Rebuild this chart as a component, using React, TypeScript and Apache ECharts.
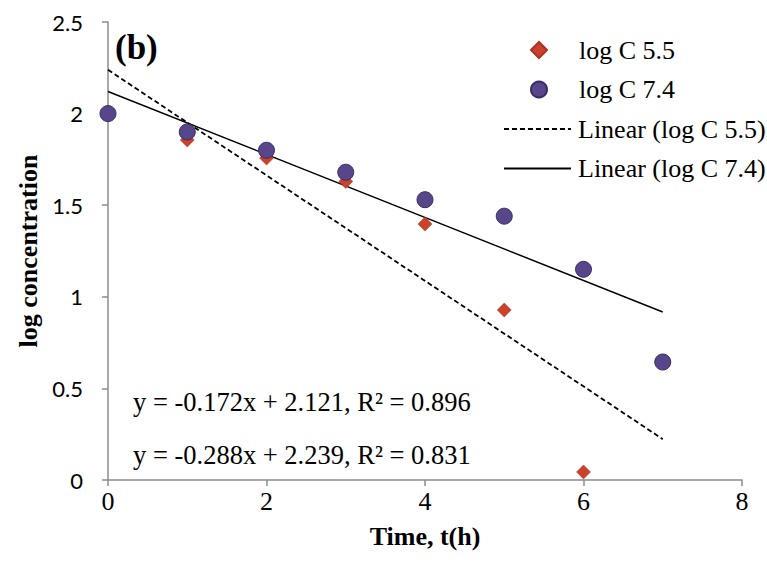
import React, { useEffect, useRef } from "react";
import * as echarts from "echarts";

const timeHours = [0, 1, 2, 3, 4, 5, 6, 7];
const logC55 = [2.0, 1.856, 1.757, 1.63, 1.397, 0.928, 0.044];
const logC74 = [2.0, 1.9, 1.8, 1.68, 1.53, 1.44, 1.15, 0.644];
const fit55 = { slope: -0.288, intercept: 2.239, r2: 0.831 };
const fit74 = { slope: -0.172, intercept: 2.121, r2: 0.896 };
const fitRange = [0, 7];
const xTicks = { min: 0, max: 8, interval: 2 };
const yTicks = { min: 0, max: 2.5, interval: 0.5 };

const serif = "'Liberation Serif', 'Times New Roman', serif";
const sans = "Lato, 'Open Sans', sans-serif";

export default function App() {
  const ref = useRef<HTMLDivElement>(null);
  useEffect(() => {
    if (!ref.current) return;
    const chart = echarts.init(ref.current, null, { renderer: "svg" });
    const fitLine = (f: { slope: number; intercept: number }) =>
      fitRange.map((x) => [x, f.intercept + f.slope * x]);
    const eq = (f: { slope: number; intercept: number; r2: number }) =>
      `y = ${f.slope.toFixed(3)}x + ${f.intercept.toFixed(3)}, R² = ${f.r2.toFixed(3)}`;
    const axisGray = "#8c8c8c";
    const legendText = { fontFamily: serif, fontSize: 26, color: "#000", lineHeight: 26 };
    chart.setOption({
      animation: false,
      backgroundColor: "#ffffff",
      grid: { left: 108, right: 25, top: 22, bottom: 85 },
      xAxis: {
        type: "value",
        min: xTicks.min,
        max: xTicks.max,
        interval: xTicks.interval,
        name: "Time, t(h)",
        nameLocation: "middle",
        nameGap: 43,
        nameTextStyle: { fontFamily: serif, fontWeight: "bold", fontSize: 26, color: "#000" },
        axisLine: { lineStyle: { color: axisGray, width: 1.5 } },
        axisTick: { show: true, length: 6, lineStyle: { color: axisGray, width: 1.5 } },
        axisLabel: { fontFamily: serif, fontSize: 26, color: "#000", margin: 8 },
        splitLine: { show: false },
      },
      yAxis: {
        type: "value",
        min: yTicks.min,
        max: yTicks.max,
        interval: yTicks.interval,
        name: "log concentration",
        nameLocation: "middle",
        nameGap: 66,
        nameTextStyle: { fontFamily: serif, fontWeight: "bold", fontSize: 26, color: "#000" },
        axisLine: { show: true, lineStyle: { color: axisGray, width: 1.5 } },
        axisTick: { show: true, length: 6, lineStyle: { color: axisGray, width: 1.5 } },
        axisLabel: { fontFamily: sans, fontSize: 22, color: "#000", margin: 25 },
        splitLine: { show: false },
      },
      legend: [
        {
          orient: "vertical",
          left: 525,
          top: 32,
          itemWidth: 16,
          itemHeight: 16,
          itemGap: 13.5,
          textStyle: { ...legendText, padding: [0, 0, 0, 27] },
          data: [{ name: "log C 5.5" }, { name: "log C 7.4" }],
        },
        {
          orient: "vertical",
          left: 498,
          top: 111,
          itemWidth: 67,
          itemHeight: 14,
          itemGap: 13.5,
          textStyle: { ...legendText, padding: [0, 0, 0, 2] },
          data: [
            { name: "Linear (log C 5.5)", itemStyle: { opacity: 0 } },
            { name: "Linear (log C 7.4)", itemStyle: { opacity: 0 } },
          ],
        },
      ],
      series: [
        {
          name: "Linear (log C 5.5)",
          type: "line",
          data: fitLine(fit55),
          symbol: "none",
          lineStyle: { color: "#000", width: 1.8, type: [5, 3] },
          itemStyle: { color: "#000" },
          z: 1,
        },
        {
          name: "Linear (log C 7.4)",
          type: "line",
          data: fitLine(fit74),
          symbol: "none",
          lineStyle: { color: "#000", width: 1.5 },
          itemStyle: { color: "#000" },
          z: 1,
        },
        {
          name: "log C 5.5",
          type: "scatter",
          data: logC55.map((v, i) => [timeHours[i], v]),
          symbol: "diamond",
          symbolSize: 14,
          itemStyle: { color: "#cb412c", borderColor: "#a8351f", borderWidth: 0.5, opacity: 1 },
          z: 2,
        },
        {
          name: "log C 7.4",
          type: "scatter",
          data: logC74.map((v, i) => [timeHours[i], v]),
          symbol: "circle",
          symbolSize: 16,
          itemStyle: { color: "#57468a", borderColor: "#3a2c64", borderWidth: 1, opacity: 1 },
          z: 3,
        },
      ],
      graphic: [
        {
          type: "text",
          x: 115,
          y: 47,
          style: {
            text: "(b)",
            fontFamily: serif,
            fontWeight: "bold",
            fontSize: 35,
            fill: "#000",
            verticalAlign: "middle",
          },
        },
        {
          type: "text",
          x: 133,
          y: 402,
          style: { text: eq(fit74), fontFamily: serif, fontSize: 26.5, fill: "#000", verticalAlign: "middle" },
        },
        {
          type: "text",
          x: 133,
          y: 455,
          style: { text: eq(fit55), fontFamily: serif, fontSize: 26.5, fill: "#000", verticalAlign: "middle" },
        },
      ],
    });
    return () => chart.dispose();
  }, []);
  return <div ref={ref} style={{ width: 767, height: 565, position: "absolute", left: 0, top: 0 }} />;
}
